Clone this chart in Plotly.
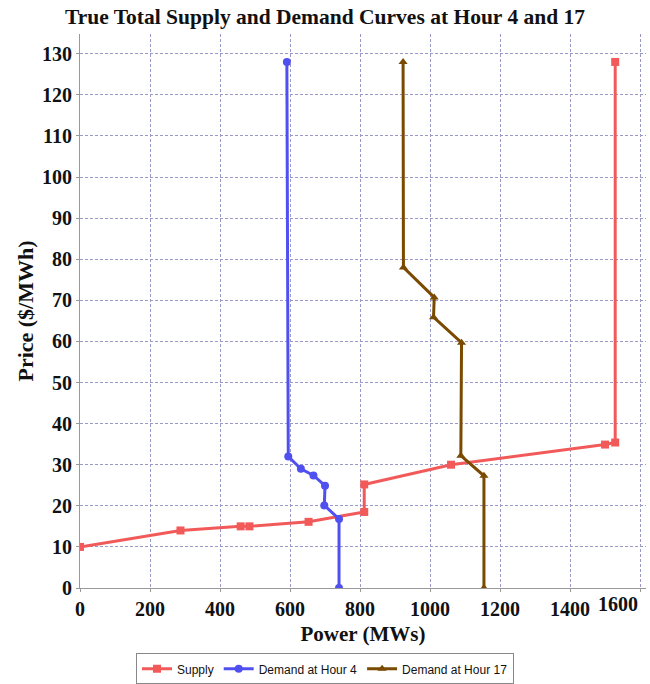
import plotly.graph_objects as go

supply_x = [0, 287, 459, 484, 653, 812, 812, 1060, 1500, 1529, 1529]
supply_y = [10, 14.0, 15.0, 15.0, 16.1, 18.5, 25.2, 30.0, 34.9, 35.4, 128]

d4_x = [740, 740, 698, 700, 667, 631, 595, 591]
d4_y = [0, 16.8, 20.1, 24.9, 27.4, 29.0, 32.0, 128]

d17_x = [1154, 1154, 1088, 1090, 1010, 1012, 924, 923]
d17_y = [0, 27.3, 32.2, 59.7, 65.9, 70.7, 78.0, 128]

x_ticks = [0, 200, 400, 600, 800, 1000, 1200, 1400, 1600]
x_ticktext = ["0", "200", "400", "600", "800", "1000", "1200", "1400", ""]
y_ticks = list(range(0, 131, 10))

serif = "Liberation Serif"
tick_font = dict(family=serif, size=20, color="#111111", weight="bold")

fig = go.Figure()
fig.add_trace(go.Scatter(x=supply_x, y=supply_y, mode="lines+markers", name="Supply",
                         line=dict(color="#f25a5a", width=3),
                         marker=dict(symbol="square", size=8, color="#f25a5a")))
fig.add_trace(go.Scatter(x=d4_x, y=d4_y, mode="lines+markers", name="Demand at Hour 4",
                         line=dict(color="#5050f0", width=3),
                         marker=dict(symbol="circle", size=8, color="#5050f0")))
fig.add_trace(go.Scatter(x=d17_x, y=d17_y, mode="lines+markers", name="Demand at Hour 17",
                         line=dict(color="#7a4a00", width=3),
                         marker=dict(symbol="triangle-up", size=8, color="#7a4a00")))

axis_common = dict(
    showgrid=True, gridcolor="#9a9ac8", griddash="3px,2px", gridwidth=1,
    showline=True, linecolor="#999999", linewidth=1, mirror=False,
    ticks="outside", ticklen=3, tickcolor="#999999",
    zeroline=False, automargin=False,
    tickfont=tick_font,
)

fig.update_layout(
    width=650, height=684, autosize=False,
    paper_bgcolor="white", plot_bgcolor="white",
    margin=dict(l=80, r=4, t=34, b=96, autoexpand=False),
    title=dict(text="True Total Supply and Demand Curves at Hour 4 and 17",
               x=0.5, xanchor="center", xref="container",
               y=1 - 16 / 684, yanchor="middle", yref="container",
               font=dict(family=serif, size=21.5, color="#111111", weight="bold")),
    xaxis=dict(range=[0, 1617], tickvals=x_ticks, ticktext=x_ticktext,
               title=dict(text="Power (MWs)", standoff=7,
                          font=dict(family=serif, size=21, color="#111111", weight="bold")),
               **axis_common),
    yaxis=dict(range=[0, 134.8], tickvals=y_ticks,
               title=dict(text="Price ($/MWh)", standoff=2,
                          font=dict(family=serif, size=22, color="#111111", weight="bold")),
               **axis_common),
    legend=dict(orientation="h", xref="container", yref="paper",
                x=0.5, xanchor="center", y=-0.118, yanchor="top",
                bordercolor="#888888", borderwidth=1,
                font=dict(family="Liberation Sans", size=12, color="#111111"),
                itemwidth=30, tracegroupgap=0),
    showlegend=True,
    annotations=[dict(text="1600", x=1600, xref="x", y=0, yref="paper",
                      xanchor="right", yanchor="top", xshift=0, yshift=-3,
                      showarrow=False, font=tick_font)],
)

post = ("document.body.style.margin='0';"
        "document.body.style.overflow='hidden';"
        "document.documentElement.style.overflow='hidden';")

fig.write_html("out.html", config={"responsive": False, "displayModeBar": False},
               post_script=post)
